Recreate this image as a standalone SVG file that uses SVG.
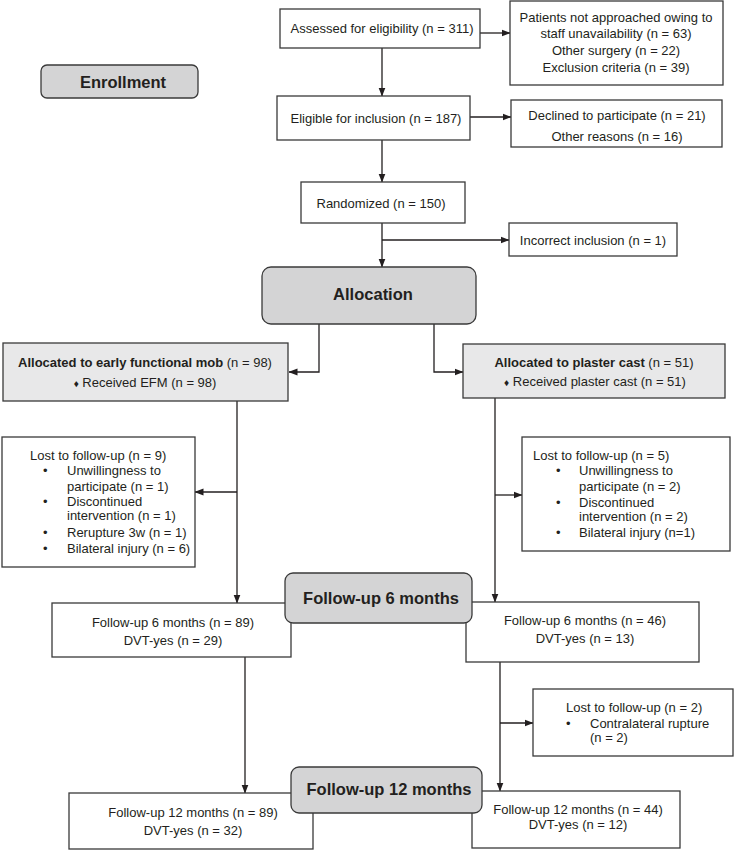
<svg xmlns="http://www.w3.org/2000/svg" width="734" height="851" viewBox="0 0 734 851">
<style>
  text { font-family: "Liberation Sans", Arial, sans-serif; font-size: 13px; fill: #231f20; }
  .c { text-anchor: middle; }
  .h { font-weight: bold; font-size: 16.5px; text-anchor: middle; }
  .b { font-weight: bold; }
  .box { fill: #ffffff; stroke: #3a3a3a; stroke-width: 1.3; }
  .alloc { fill: #e8e8e9; stroke: #3a3a3a; stroke-width: 1.3; }
  .stage { fill: #d4d4d5; stroke: #3a3a3a; stroke-width: 1.3; }
  .ln { fill: none; stroke: #231f20; stroke-width: 1.3; }
  .arr { fill: none; stroke: #231f20; stroke-width: 1.3; marker-end: url(#ah); }
  .dot { font-size: 10px; }
</style>
<defs>
  <marker id="ah" markerWidth="9" markerHeight="8" refX="8.5" refY="4" orient="auto" markerUnits="userSpaceOnUse">
    <path d="M0,0.5 L9,4 L0,7.5 Z" fill="#231f20"/>
  </marker>
</defs>
<rect width="734" height="851" fill="#ffffff"/>

<g id="connectors">
  <line class="arr" x1="480" y1="33" x2="510" y2="33"/>
  <line class="arr" x1="382" y1="48" x2="382" y2="96"/>
  <line class="arr" x1="470" y1="117" x2="511" y2="117"/>
  <line class="arr" x1="382" y1="140" x2="382" y2="182"/>
  <line class="arr" x1="382" y1="223" x2="382" y2="267"/>
  <line class="arr" x1="382" y1="240" x2="509" y2="240"/>
  <polyline class="arr" points="319,324 319,372 289,372"/>
  <polyline class="arr" points="434,324 434,372 463,372"/>
  <line class="arr" x1="237" y1="401" x2="237" y2="603"/>
  <line class="arr" x1="237" y1="492" x2="195" y2="492"/>
  <line class="arr" x1="495" y1="398" x2="495" y2="602"/>
  <line class="arr" x1="495" y1="495" x2="522" y2="495"/>
  <line class="arr" x1="245" y1="657" x2="245" y2="793"/>
  <line class="arr" x1="500" y1="662" x2="500" y2="791"/>
  <line class="arr" x1="500" y1="723" x2="533" y2="723"/>
</g>

<g id="enrollment">
  <rect class="stage" x="41" y="65" width="157" height="33" rx="6"/>
  <text class="h" x="123" y="88">Enrollment</text>
</g>

<g id="assessed">
  <rect class="box" x="280" y="9" width="200" height="39"/>
  <text class="c" x="382" y="33">Assessed for eligibility (n = 311)</text>
</g>

<g id="not-approached">
  <rect class="box" x="510" y="1" width="213" height="84"/>
  <text class="c" x="616" y="22">Patients not approached owing to</text>
  <text class="c" x="616" y="38">staff unavailability (n = 63)</text>
  <text class="c" x="616" y="55">Other surgery (n = 22)</text>
  <text class="c" x="616" y="72">Exclusion criteria (n = 39)</text>
</g>

<g id="eligible">
  <rect class="box" x="277" y="96" width="193" height="44"/>
  <text class="c" x="376" y="123">Eligible for inclusion (n = 187)</text>
</g>

<g id="declined">
  <rect class="box" x="511" y="100" width="211" height="47"/>
  <text class="c" x="617" y="120">Declined to participate (n = 21)</text>
  <text class="c" x="617" y="141">Other reasons (n = 16)</text>
</g>

<g id="randomized">
  <rect class="box" x="301" y="182" width="164" height="41"/>
  <text class="c" x="381" y="208">Randomized (n = 150)</text>
</g>

<g id="incorrect">
  <rect class="box" x="509" y="223" width="168" height="33"/>
  <text class="c" x="593" y="245">Incorrect inclusion (n = 1)</text>
</g>

<g id="allocation">
  <rect class="stage" x="262" y="267" width="214" height="57" rx="9"/>
  <text class="h" x="373" y="300">Allocation</text>
</g>

<g id="alloc-efm">
  <rect class="alloc" x="3" y="343" width="285" height="58"/>
  <text class="c" x="145" y="367"><tspan class="b">Allocated to early functional mob</tspan> (n = 98)</text>
  <text class="c" x="145" y="387"><tspan class="dot">♦</tspan> Received EFM (n = 98)</text>
</g>

<g id="alloc-cast">
  <rect class="alloc" x="463" y="344" width="262" height="54"/>
  <text class="c" x="594" y="367"><tspan class="b">Allocated to plaster cast</tspan> (n = 51)</text>
  <text class="c" x="595" y="386"><tspan class="dot">♦</tspan> Received plaster cast (n = 51)</text>
</g>

<g id="lost-efm">
  <rect class="box" x="2" y="437" width="193" height="130"/>
  <text x="30" y="460">Lost to follow-up (n = 9)</text>
  <text x="43" y="475">•</text><text x="67" y="475">Unwillingness to</text>
  <text x="67" y="491">participate (n = 1)</text>
  <text x="43" y="506">•</text><text x="67" y="506">Discontinued</text>
  <text x="67" y="520">intervention (n = 1)</text>
  <text x="43" y="537">•</text><text x="67" y="537">Rerupture 3w (n = 1)</text>
  <text x="43" y="553">•</text><text x="67" y="553">Bilateral injury (n = 6)</text>
</g>

<g id="lost-cast">
  <rect class="box" x="522" y="437" width="208" height="114"/>
  <text x="533" y="460">Lost to follow-up (n = 5)</text>
  <text x="556" y="475">•</text><text x="579" y="475">Unwillingness to</text>
  <text x="579" y="491">participate (n = 2)</text>
  <text x="556" y="507">•</text><text x="579" y="507">Discontinued</text>
  <text x="579" y="521">intervention (n = 2)</text>
  <text x="556" y="537">•</text><text x="579" y="537">Bilateral injury (n=1)</text>
</g>

<g id="fu6-efm">
  <rect class="box" x="52" y="603" width="239" height="54"/>
  <text class="c" x="173" y="627">Follow-up 6 months (n = 89)</text>
  <text class="c" x="173" y="645">DVT-yes (n = 29)</text>
</g>

<g id="fu6-cast">
  <rect class="box" x="466" y="602" width="233" height="60"/>
  <text class="c" x="585" y="625">Follow-up 6 months (n = 46)</text>
  <text class="c" x="585" y="643">DVT-yes (n = 13)</text>
</g>

<g id="fu6-stage">
  <rect class="stage" x="285" y="573" width="187" height="50" rx="8"/>
  <text class="h" x="381" y="604">Follow-up 6 months</text>
</g>

<g id="lost-cast-2">
  <rect class="box" x="533" y="689" width="200" height="67"/>
  <text x="566" y="712">Lost to follow-up (n = 2)</text>
  <text x="566" y="728">•</text><text x="590" y="728">Contralateral rupture</text>
  <text x="590" y="742">(n = 2)</text>
</g>

<g id="fu12-efm">
  <rect class="box" x="69" y="793" width="244" height="56"/>
  <text class="c" x="193" y="817">Follow-up 12 months (n = 89)</text>
  <text class="c" x="193" y="835">DVT-yes (n = 32)</text>
</g>

<g id="fu12-cast">
  <rect class="box" x="472" y="791" width="208" height="57"/>
  <text class="c" x="578" y="814">Follow-up 12 months (n = 44)</text>
  <text class="c" x="578" y="829">DVT-yes (n = 12)</text>
</g>

<g id="fu12-stage">
  <rect class="stage" x="291" y="767" width="191" height="46" rx="8"/>
  <text class="h" x="389" y="795">Follow-up 12 months</text>
</g>
</svg>
